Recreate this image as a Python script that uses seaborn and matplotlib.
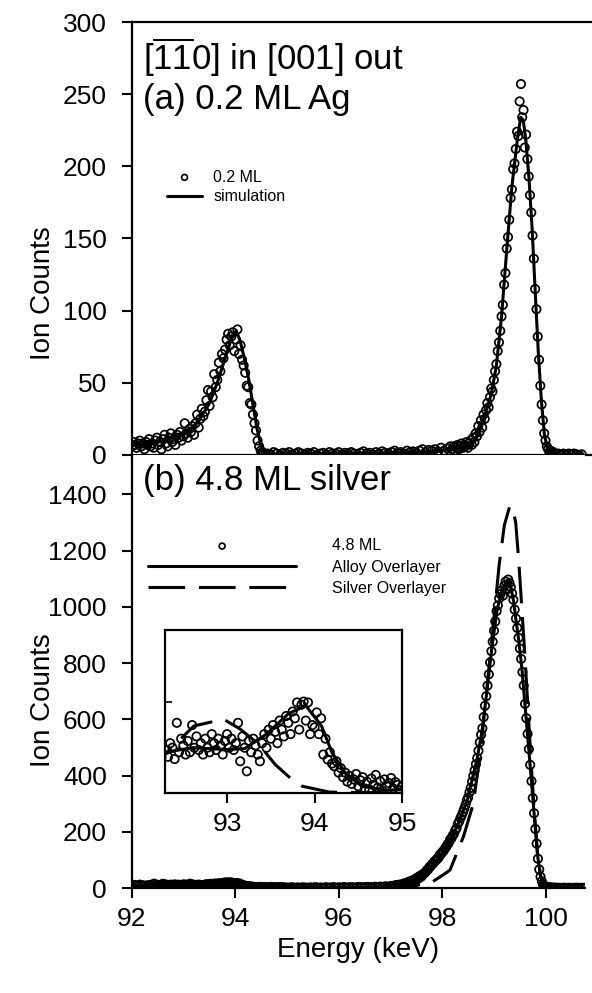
"""
Ion scattering spectra: 0.2 ML and 4.8 ML Ag, [-1-10] in / [001] out.
"""

import matplotlib
matplotlib.use("Agg")
import matplotlib.pyplot as plt
import seaborn as sns
import numpy as np


sns.set_theme(style="ticks", rc={
    "axes.edgecolor": "black",
    "xtick.color": "black",
    "ytick.color": "black",
    "text.color": "black",
    "axes.labelcolor": "black",
})
plt.rcParams["font.family"] = ["Liberation Sans", "DejaVu Sans"]
plt.rcParams["mathtext.fontset"] = "custom"
plt.rcParams["mathtext.rm"] = "Liberation Sans"

# ---------------- panel (a): 0.2 ML ----------------
e_02ml = [
    92.00, 92.03, 92.06, 92.09, 92.12, 92.15, 92.18, 92.21, 92.24, 92.27,
    92.30, 92.33, 92.36, 92.39, 92.42, 92.45, 92.48, 92.51, 92.54, 92.57,
    92.60, 92.63, 92.66, 92.69, 92.72, 92.75, 92.78, 92.81, 92.84, 92.87,
    92.90, 92.93, 92.96, 92.99, 93.02, 93.05, 93.08, 93.11, 93.14, 93.17,
    93.20, 93.23, 93.26, 93.29, 93.32, 93.35, 93.38, 93.41, 93.44, 93.47,
    93.50, 93.53, 93.56, 93.59, 93.62, 93.65, 93.68, 93.71, 93.74, 93.77,
    93.80, 93.83, 93.86, 93.89, 93.92, 93.95, 93.98, 94.01, 94.04, 94.07,
    94.10, 94.13, 94.16, 94.19, 94.22, 94.25, 94.28, 94.31, 94.34, 94.37,
    94.40, 94.43, 94.46, 94.49, 94.52, 94.55, 94.58,
    94.62, 94.68, 94.74, 94.80, 94.86, 94.92, 94.98, 95.04, 95.10, 95.16,
    95.22, 95.28, 95.34, 95.40, 95.46, 95.52, 95.58, 95.64, 95.70, 95.76,
    95.82, 95.88, 95.94, 96.00, 96.06, 96.12, 96.18, 96.24, 96.30, 96.36,
    96.42, 96.48, 96.54, 96.60, 96.66, 96.72, 96.78, 96.84, 96.90, 96.96,
    97.02, 97.08, 97.14, 97.20, 97.26, 97.32, 97.38, 97.44, 97.50, 97.56,
    97.62, 97.68, 97.74, 97.80, 97.86, 97.92, 97.98, 98.04, 98.10, 98.16,
    98.200, 98.225, 98.250, 98.275, 98.300, 98.325, 98.350, 98.375, 98.400, 98.425,
    98.450, 98.475, 98.500, 98.525, 98.550, 98.575, 98.600, 98.625, 98.650, 98.675,
    98.700, 98.725, 98.750, 98.775, 98.800, 98.825, 98.850, 98.875, 98.900, 98.925,
    98.950, 98.975, 99.000, 99.025, 99.050, 99.075, 99.100, 99.125, 99.150, 99.175,
    99.200, 99.225, 99.250, 99.275, 99.300, 99.325, 99.350, 99.375, 99.400, 99.425,
    99.450, 99.475, 99.500, 99.525, 99.550, 99.575, 99.600, 99.625, 99.650, 99.675,
    99.700, 99.725, 99.750, 99.775, 99.800, 99.825, 99.850, 99.875, 99.900, 99.925,
    99.950, 99.975, 100.000, 100.025, 100.050, 100.075, 100.100, 100.125, 100.150, 100.175,
    100.200, 100.25, 100.30, 100.35, 100.40, 100.45, 100.50, 100.55, 100.60, 100.65,
    100.70,
]
counts_02ml = [
    6, 9, 7, 5, 8, 10, 6, 8, 4, 9,
    7, 11, 6, 8, 5, 10, 12, 7, 9, 4,
    11, 14, 8, 6, 12, 15, 9, 11, 7, 14,
    12, 16, 10, 13, 22, 15, 12, 18, 16, 20,
    14, 22, 28, 19, 25, 32, 27, 30, 38, 45,
    34, 44, 40, 56, 47, 52, 64, 58, 70, 67,
    73, 80, 84, 76, 82, 85, 72, 80, 87, 70,
    76, 66, 62, 57, 48, 47, 36, 35, 28, 22,
    17, 10, 6, 3, 2, 1, 0.5,
    1, 0.5, 2, 1, 0, 1.5, 1, 2, 0.5, 1,
    2, 1, 0.5, 1.5, 1, 2, 0, 1, 1.5, 0.5,
    2, 1, 1, 2, 0.5, 1.5, 1, 2, 1, 0.5,
    1.5, 2.5, 1, 1.5, 0.5, 2, 1, 2.5, 1.5, 1,
    2, 3, 1.5, 2, 1, 3, 2, 2.5, 1.5, 3,
    4, 2, 3.5, 3, 4, 2.5, 5, 3, 4.5, 6,
    4, 6, 3, 5, 7, 4, 6, 8, 5, 7,
    6, 9, 5, 8, 10, 7, 12, 9, 15, 13,
    20, 16, 24, 19, 28, 25, 31, 36, 33, 40,
    46, 44, 52, 58, 63, 72, 78, 86, 96, 104,
    118, 126, 143, 151, 163, 178, 184, 198, 202, 212,
    224, 221, 245, 257, 234, 239, 213, 222, 205, 193,
    180, 168, 152, 136, 115, 101, 82, 66, 48, 35,
    24, 15, 10, 6, 4, 2, 3, 1, 2, 1,
    0.5, 1, 0.5, 1, 0, 1, 0.5, 1, 0.5, 0,
    0.5,
]

sim_e = [
    92.00, 92.30, 92.60, 92.90, 93.10, 93.30, 93.50, 93.65, 93.80, 93.92,
    94.02, 94.10, 94.18, 94.26, 94.34, 94.42, 94.50, 94.58, 94.70, 95.00,
    96.00, 97.00, 97.60, 98.00, 98.20, 98.40, 98.55, 98.65, 98.75, 98.85,
    98.95, 99.05, 99.15, 99.25, 99.35, 99.45, 99.52, 99.57, 99.62, 99.68,
    99.74, 99.80, 99.86, 99.92, 99.98, 100.04, 100.12, 100.30, 100.70,
]
sim_counts = [
    8, 8.5, 10, 13, 17, 24, 36, 50, 67, 80,
    86, 78, 66, 52, 35, 18, 6, 1.5, 0.5, 0.5,
    0.8, 1.2, 2, 3, 4, 5, 7, 12, 20, 30,
    42, 62, 96, 142, 186, 217, 234, 232, 218, 192,
    158, 114, 72, 38, 14, 4, 1, 0.5, 0.3,
]

# ---------------- panel (b): 4.8 ML ----------------
e_48ml = [
    92.00, 92.05, 92.10, 92.15, 92.20, 92.25,
    92.300, 92.325, 92.350, 92.375, 92.400, 92.425, 92.450, 92.475, 92.500, 92.525,
    92.550, 92.575, 92.600, 92.625, 92.650, 92.675, 92.700, 92.725, 92.750, 92.775,
    92.800, 92.825, 92.850, 92.875, 92.900, 92.925, 92.950, 92.975, 93.000, 93.025,
    93.050, 93.075, 93.100, 93.125, 93.150, 93.175, 93.200, 93.225, 93.250, 93.275,
    93.300, 93.325, 93.350, 93.375, 93.400, 93.425, 93.450, 93.475, 93.500, 93.525,
    93.550, 93.575, 93.600, 93.625, 93.650, 93.675, 93.700, 93.725, 93.750, 93.775,
    93.800, 93.825, 93.850, 93.875, 93.900, 93.925, 93.950, 93.975, 94.000, 94.025,
    94.050, 94.075, 94.100, 94.125, 94.150, 94.175, 94.200, 94.225, 94.250, 94.275,
    94.300, 94.325, 94.350, 94.375, 94.400, 94.425, 94.450, 94.475, 94.500, 94.525,
    94.550, 94.575, 94.600, 94.625, 94.650, 94.675, 94.700, 94.725, 94.750, 94.775,
    94.800, 94.825, 94.850, 94.875, 94.900, 94.925, 94.950, 94.975, 95.000,
    95.05, 95.10, 95.15, 95.20, 95.25, 95.30, 95.35, 95.40, 95.45, 95.50,
    95.55, 95.60, 95.65, 95.70, 95.75, 95.80, 95.85, 95.90, 95.95, 96.00,
    96.05, 96.10, 96.15, 96.20, 96.25, 96.30, 96.35, 96.40, 96.45, 96.50,
    96.55, 96.60, 96.65, 96.70, 96.75, 96.80, 96.85, 96.90, 96.95, 97.00,
    97.025, 97.050, 97.075, 97.100, 97.125, 97.150, 97.175, 97.200, 97.225, 97.250,
    97.275, 97.300, 97.325, 97.350, 97.375, 97.400, 97.425, 97.450, 97.475, 97.500,
    97.525, 97.550, 97.575, 97.600, 97.625, 97.650, 97.675, 97.700, 97.725, 97.750,
    97.775, 97.800, 97.825, 97.850, 97.875, 97.900, 97.925, 97.950, 97.975, 98.000,
    98.025, 98.050, 98.075, 98.100, 98.125, 98.150, 98.175, 98.200, 98.225, 98.250,
    98.275, 98.300, 98.325, 98.350, 98.375, 98.400, 98.425, 98.450, 98.475, 98.500,
    98.525, 98.550, 98.575, 98.600, 98.625, 98.650, 98.675, 98.700, 98.725, 98.750,
    98.775, 98.800, 98.825, 98.850, 98.875, 98.900, 98.925, 98.950, 98.975, 99.000,
    99.025, 99.050, 99.075, 99.100, 99.125, 99.150, 99.175, 99.200, 99.225, 99.250,
    99.275, 99.300, 99.325, 99.350, 99.375, 99.400, 99.425, 99.450, 99.475, 99.500,
    99.525, 99.550, 99.575, 99.600, 99.625, 99.650, 99.675, 99.700, 99.725, 99.750,
    99.775, 99.800, 99.825, 99.850, 99.875, 99.900, 99.925, 99.950, 99.975, 100.000,
    100.025, 100.050, 100.075, 100.100, 100.125, 100.150, 100.175, 100.200,
    100.25, 100.30, 100.35, 100.40, 100.45, 100.50, 100.55, 100.60, 100.65, 100.70,
    100.75,
]
counts_48ml = [
    8, 11, 9, 12, 10, 8,
    9.5, 8, 11, 10, 7.5, 15.5, 9, 12, 10.5, 8.5,
    11.5, 9, 15, 10, 12.5, 9.5, 11, 8.5, 12, 10,
    9, 13, 11, 9.5, 12, 10.5, 8.5, 11.5, 13, 10,
    12, 9.5, 11, 15.5, 7, 12.5, 10, 4.8, 11.5, 9,
    12, 10.5, 8.5, 7, 11, 13, 10, 14, 12, 15,
    13.5, 11, 16, 14, 12.5, 17, 15.5, 13, 18, 16.5,
    20, 14, 19.5, 20.2, 16, 20, 13, 15, 14.5, 17.8,
    13, 16.5, 8.5, 12, 7.4, 9, 6.5, 5.9, 7, 4.5,
    5.5, 3.5, 4.5, 2.5, 3.8, 2, 3, 4.2, 1.5, 2.8,
    3.5, 1, 2.5, 0.8, 3.2, 1.8, 4, 1.2, 2.6, 0.5,
    3, 1.5, 2.2, 3.3, 1, 2.4, 1.8, 0.6, 1.5,
    1.5, 3, 0.5, 2, 1, 2.5, 1.5, 0.8, 2.2, 1.2,
    3, 1, 2, 0.5, 2.8, 1.5, 2, 3.2, 1, 2.5,
    1.8, 3.5, 1.2, 2.6, 3, 1.5, 2.8, 3.8, 2, 3,
    4, 2.4, 3.6, 4.5, 3, 5, 4, 6, 4.5, 6.5,
    7, 5, 9, 8, 11, 7, 12, 10, 14, 12,
    17, 15, 20, 18, 24, 21, 27, 25, 32, 29,
    38, 35, 44, 41, 49, 52, 56, 63, 66, 74,
    77, 84, 88, 95, 98, 104, 107, 118, 120, 128,
    132, 140, 146, 155, 160, 172, 176, 186, 192, 205,
    212, 228, 236, 248, 258, 270, 282, 296, 312, 322,
    340, 356, 378, 398, 418, 440, 462, 488, 518, 545,
    568, 608, 648, 682, 720, 760, 802, 842, 876, 915,
    948, 985, 1005, 1030, 1045, 1058, 1040, 1075, 1090, 1062,
    1097, 1085, 1070, 1048, 1025, 990, 958, 925, 890, 852,
    815, 768, 720, 655, 604, 548, 494, 438, 380, 320,
    266, 210, 158, 104, 66, 40, 24, 12, 8, 5,
    3, 2.5, 1.5, 2, 1, 1.5, 0.8, 1,
    1, 0.5, 1.2, 0.6, 1, 0.4, 0.8, 1.1, 0.5, 0.7,
    0.9,
]

alloy_e = [
    92.00, 92.30, 92.60, 93.00, 93.20, 93.45, 93.70, 93.90, 94.08, 94.20,
    94.35, 94.54, 94.80, 95.50, 96.50, 97.00, 97.20, 97.40, 97.60, 97.80,
    98.00, 98.15, 98.30, 98.48, 98.67, 98.77, 98.86, 98.96, 99.06, 99.15,
    99.22, 99.30, 99.38, 99.42, 99.48, 99.54, 99.60, 99.66, 99.72, 99.78,
    99.84, 99.90, 99.96, 100.05, 100.20, 100.75,
]
alloy_counts = [
    10, 9, 10, 9.6, 9.8, 13, 17.5, 19.3, 14.8, 8.9,
    4.5, 1.5, 0.6, 1, 2, 6, 11, 22, 42, 80,
    122, 168, 225, 310, 456, 560, 695, 855, 990, 1055,
    1085, 1092, 1020, 960, 880, 780, 650, 520, 390, 255,
    120, 40, 10, 2, 0.5, 0.3,
]

silver_e = [
    92.00, 92.31, 92.62, 92.96, 93.15, 93.36, 93.55, 93.74, 93.86, 94.17,
    95.00, 97.00, 97.40, 97.54, 97.77, 98.06, 98.15, 98.41, 98.60, 98.75,
    98.90, 99.00, 99.10, 99.20, 99.30, 99.35, 99.42, 99.48, 99.54, 99.60,
    99.66, 99.72, 99.78, 99.84, 99.90, 99.96, 100.05, 100.20, 100.75,
]
silver_counts = [
    6, 8.9, 14.8, 16.3, 14.1, 10.8, 6.3, 3.0, 1.5, 0.2,
    0, 0, 2, 11, 17, 52, 64, 183, 300, 500,
    780, 960, 1150, 1290, 1355, 1358, 1300, 1160, 990, 820,
    630, 440, 270, 130, 45, 12, 2, 0, 0,
]

TICK_SIZE = 19
LABEL_SIZE = 20
TITLE_SIZE = 25

fig = plt.figure(figsize=(5.92, 9.93), dpi=100)
ax_a = fig.add_axes([132 / 592, 1 - 455 / 993, 460 / 592, 433 / 993])
ax_b = fig.add_axes([132 / 592, 1 - 888 / 993, 453 / 592, 433 / 993])
ax_in = fig.add_axes([165 / 592, 1 - 793 / 993, 237 / 592, 163 / 993])

scatter_kw = dict(marker="o", s=36, facecolor="none", edgecolor="black", linewidth=1.25)
solid_kw = dict(color="black", linewidth=2.2, estimator=None, sort=False)
dash_style = (0, (12, 4.5))

# panel (a)
sns.scatterplot(x=e_02ml, y=counts_02ml, ax=ax_a, label="0.2 ML", **scatter_kw)
sns.lineplot(x=sim_e, y=sim_counts, ax=ax_a, label="simulation", **solid_kw)

# panel (b)
sns.scatterplot(x=e_48ml, y=counts_48ml, ax=ax_b, label="4.8 ML", **scatter_kw)
sns.lineplot(x=alloy_e, y=alloy_counts, ax=ax_b, label="Alloy Overlayer", **solid_kw)
sns.lineplot(x=silver_e, y=silver_counts, ax=ax_b, label="Silver Overlayer",
             linestyle=dash_style, **solid_kw)

# inset (low energy part of panel b)
sns.scatterplot(x=e_48ml, y=counts_48ml, ax=ax_in, legend=False, **scatter_kw)
sns.lineplot(x=alloy_e, y=alloy_counts, ax=ax_in, legend=False, **solid_kw)
sns.lineplot(x=silver_e, y=silver_counts, ax=ax_in, legend=False,
             linestyle=dash_style, **solid_kw)

for ax in (ax_a, ax_b):
    ax.spines["right"].set_visible(False)
    ax.spines["left"].set_linewidth(1.6)
    ax.spines["bottom"].set_linewidth(1.6)
    ax.tick_params(axis="both", direction="out", length=7, width=1.5,
                   labelsize=TICK_SIZE)
    ax.tick_params(axis="y", pad=11)
    ax.tick_params(axis="x", pad=7)
    ax.set_xticks([92, 94, 96, 98, 100])
    ax.set_ylabel("Ion Counts", fontsize=LABEL_SIZE)

ax_a.spines["top"].set_linewidth(1.6)
ax_b.spines["top"].set_visible(False)

ax_a.set_xlim(92, 100.9)
ax_a.set_ylim(0, 300)
ax_a.set_yticks([0, 50, 100, 150, 200, 250, 300])
ax_a.tick_params(axis="x", labelbottom=False)
ax_a.set_xlabel("")
ax_a.yaxis.set_label_coords(-0.165, 0.375)

ax_b.set_xlim(92, 100.76)
ax_b.set_ylim(0, 1540)
ax_b.set_yticks([0, 200, 400, 600, 800, 1000, 1200, 1400])
ax_b.set_xlabel("Energy (keV)", fontsize=LABEL_SIZE)
ax_b.yaxis.set_label_coords(-0.168, 0.434)

ax_in.set_xlim(92.29, 95.0)
ax_in.set_ylim(0, 36)
ax_in.set_xticks([93, 94, 95])
ax_in.set_yticks([20])
ax_in.set_yticklabels([])
for s in ax_in.spines.values():
    s.set_linewidth(1.6)
ax_in.tick_params(axis="x", direction="out", length=7, width=1.5,
                  labelsize=TICK_SIZE, pad=7)
ax_in.tick_params(axis="y", direction="in", length=5, width=1.2)
ax_in.set_xlabel("")
ax_in.set_ylabel("")

ax_a.text(0.024, 0.919, r"[$\mathregular{\overline{11}}$0] in [001] out",
          transform=ax_a.transAxes, fontsize=TITLE_SIZE, va="center", ha="left")
ax_a.text(0.024, 0.82, "(a) 0.2 ML Ag", transform=ax_a.transAxes,
          fontsize=TITLE_SIZE, va="center", ha="left")
ax_b.text(0.024, 0.94, "(b) 4.8 ML silver", transform=ax_b.transAxes,
          fontsize=TITLE_SIZE, va="center", ha="left")

ax_a.legend(loc="center left", bbox_to_anchor=(0.076, 0.619), frameon=False,
            fontsize=11.5, handlelength=2.2, handletextpad=0.7, labelspacing=0.3,
            borderpad=0, borderaxespad=0, markerscale=0.7)
ax_b.legend(loc="center left", bbox_to_anchor=(0.035, 0.741), frameon=False,
            fontsize=11.5, handlelength=9.3, handletextpad=2.25, labelspacing=0.4,
            borderpad=0, borderaxespad=0, markerscale=0.7)

fig.savefig("out.png", dpi=100)
